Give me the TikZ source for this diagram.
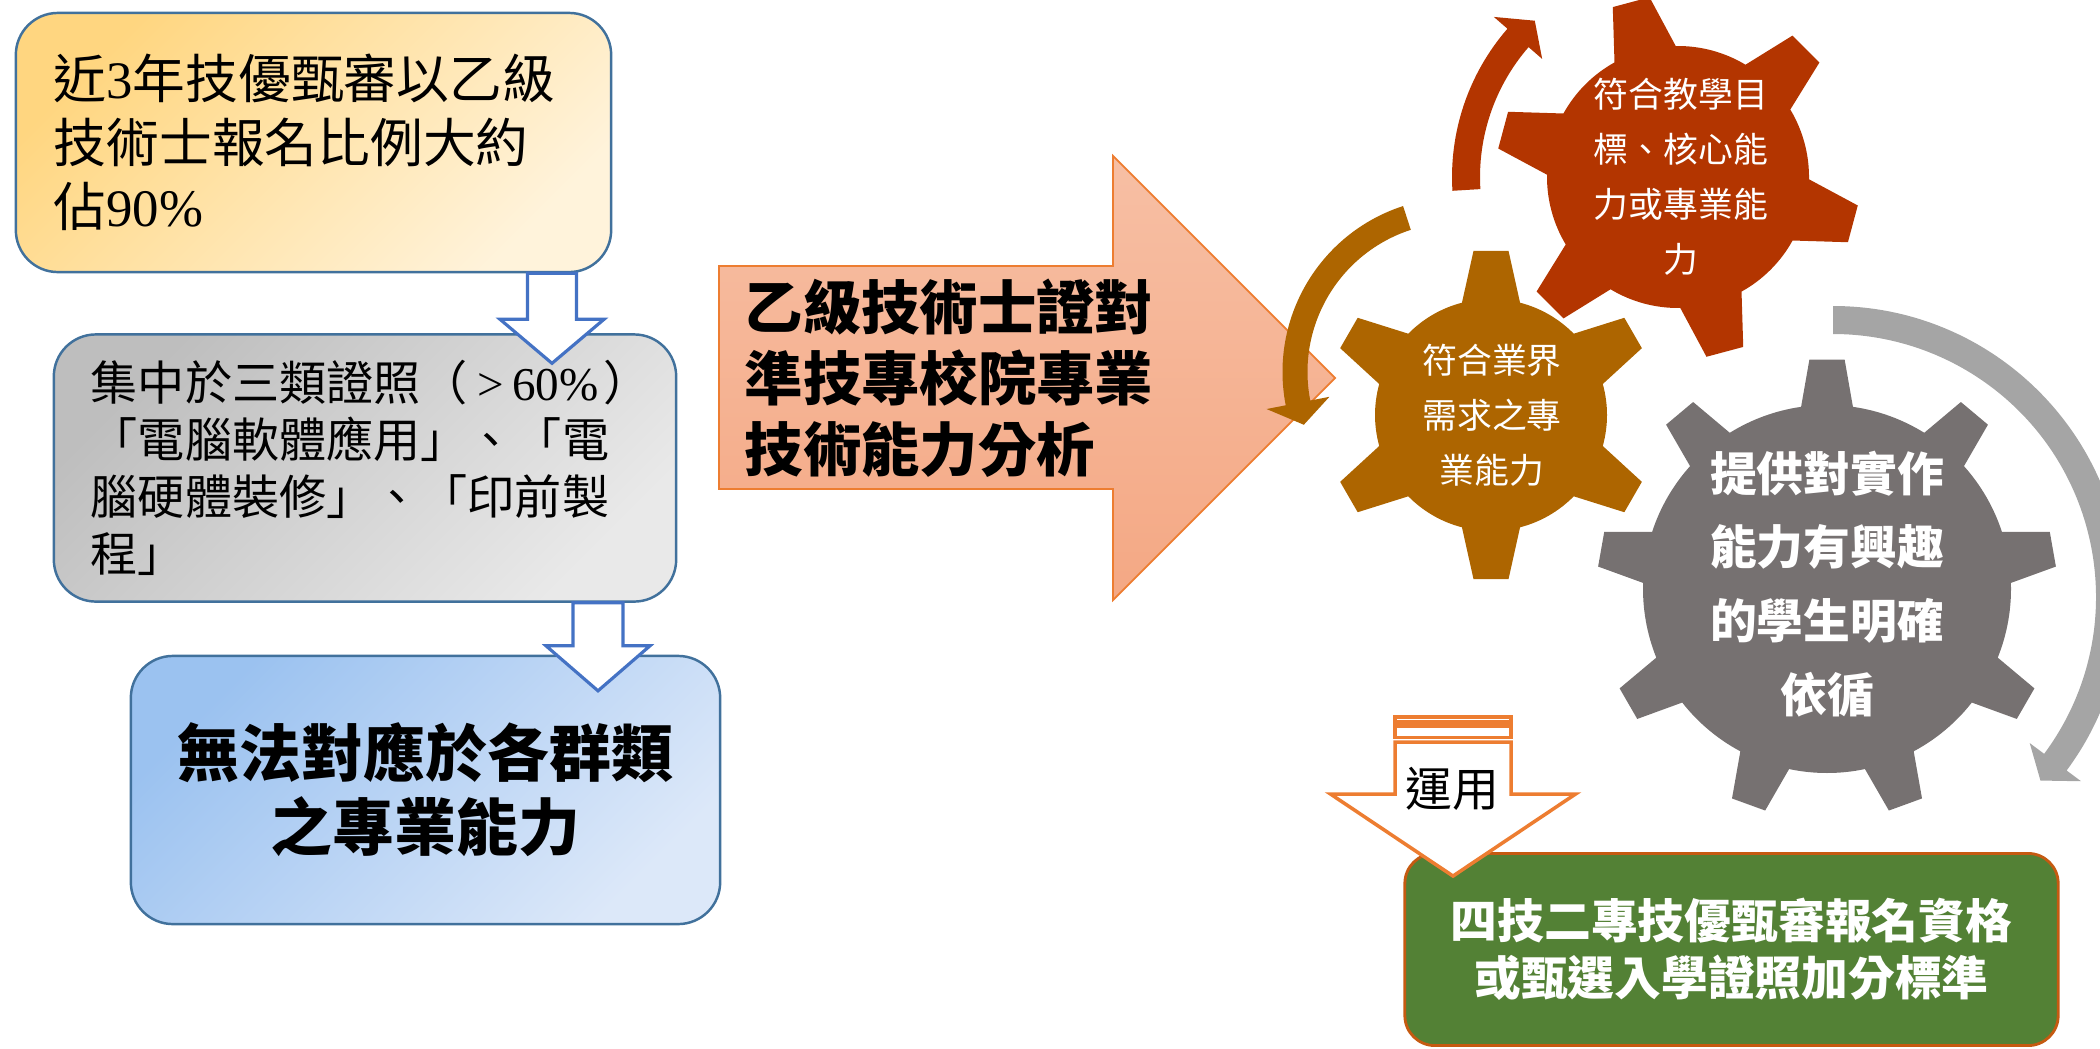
\documentclass[tikz,border=0pt]{standalone}
\usepackage{fontspec}
\usetikzlibrary{calc}
\newfontfamily\tc{Noto Sans CJK TC}
\newfontfamily\lat{Liberation Serif}

\definecolor{goldA}{RGB}{255,214,128}
\definecolor{goldB}{RGB}{255,243,219}
\definecolor{greyA}{RGB}{190,190,190}
\definecolor{greyB}{RGB}{233,233,233}
\definecolor{blueA}{RGB}{155,194,240}
\definecolor{blueB}{RGB}{220,232,249}
\definecolor{boxline}{RGB}{65,113,156}
\definecolor{flowblue}{RGB}{68,114,196}
\definecolor{salmonA}{RGB}{247,191,164}
\definecolor{salmonB}{RGB}{244,168,132}
\definecolor{accent}{RGB}{237,125,49}
\definecolor{gearred}{RGB}{179,53,0}
\definecolor{gearbrown}{RGB}{173,101,0}
\definecolor{geargrey}{RGB}{118,113,113}
\definecolor{arcgrey}{RGB}{165,165,165}
\definecolor{leaf}{RGB}{83,129,53}
\definecolor{rust}{RGB}{197,90,17}

% gear: fill, centre, teeth, first tooth angle, body radius, tip radius, half base angle, half tip angle
\newcommand{\gear}[8]{%
  \pgfmathsetmacro{\gstep}{360/#3}
  \fill[#1, shift={#2}] ({#4-#7}:#5)
    \foreach \k in {1,...,#3} {
      -- ({#4+(\k-1)*\gstep-#8}:#6) -- ({#4+(\k-1)*\gstep+#8}:#6)
      -- ({#4+(\k-1)*\gstep+#7}:#5)
      arc[start angle={#4+(\k-1)*\gstep+#7}, end angle={#4+\k*\gstep-#7}, radius=#5]
    } -- cycle;
}
% curved arrow: fill, centre, radius, half thickness, tail angle, head angle, tip angle, head half width
\newcommand{\circarrow}[8]{%
  \fill[#1, shift={#2}] ({#5}:{#3+#4}) arc[start angle=#5, end angle=#6, radius={#3+#4}]
    -- ({#6}:{#3+#8}) -- ({#7}:{#3}) -- ({#6}:{#3-#8}) -- ({#6}:{#3-#4})
    arc[start angle=#6, end angle=#5, radius={#3-#4}] -- cycle;
}
% block arrow pointing down: style, top centre, length, shaft half width, head half width, head length
\newcommand{\downblock}[6]{%
  \draw[#1, shift={#2}] (-#4,0) -- (-#4,{#3-#6}) -- (-#5,{#3-#6}) -- (0,#3)
    -- (#5,{#3-#6}) -- (#4,{#3-#6}) -- (#4,0) -- cycle;
}

\begin{document}
\begin{tikzpicture}[x=0.01cm, y=-0.01cm,
    flowbox/.style 2 args={draw=boxline, line width=0.7pt, rounded corners=0.42cm, inner sep=0pt,
      top color=#1, bottom color=#2, shading angle=45},
    flowarrow/.style={draw=flowblue, line width=0.9pt, fill=white},
    usearrow/.style={draw=accent, line width=1pt, fill=white},
    gearlabel/.style={text=white, align=center, inner sep=0pt}]
  \useasboundingbox (0,0) rectangle (2100,1048);

  % left column
  \node[flowbox={goldA}{goldB}, minimum width=5.95cm, minimum height=2.59cm, text width=5.19cm, align=left,
    font=\tc\fontsize{15}{18.2}\selectfont] (ratio) at (313.5,142.5) {近{\lat 3}年技優甄審以乙級\\技術士報名比例大約\\佔{\lat 90\%}};
  \node[flowbox={greyA}{greyB}, minimum width=6.22cm, minimum height=2.67cm, text width=5.48cm, align=left,
    font=\tc\fontsize{13.4}{16.2}\selectfont] (certs) at (365,468) {\mbox{集中於三類證照（\hspace{0.1cm}{\lat>\,60\%}\hspace{0.05cm}）}\\「電腦軟體應用」、「電\\腦硬體裝修」、「印前製\\程」};
  \node[flowbox={blueA}{blueB}, minimum width=5.89cm, minimum height=2.68cm, align=center,
    font=\tc\bfseries\fontsize{17.6}{21}\selectfont] (gap) at (425.5,790) {無法對應於各群類\\之專業能力};

  \coordinate (s1) at (ratio.south -| 552,0);
  \coordinate (s2) at (certs.south -| 598,0);
  \downblock{flowarrow}{(s1)}{90}{24.5}{52}{44}
  \downblock{flowarrow}{(s2)}{88}{25}{52}{45}

  % big arrow
  \draw[draw=accent, line width=0.5pt, top color=salmonA, bottom color=salmonB]
    (719,266) -- (1113,266) -- (1113,156) -- (1335,378) -- (1113,600) -- (1113,489) -- (719,489) -- cycle;
  \node[anchor=west, align=left, inner sep=0pt, font=\tc\bfseries\fontsize{16.6}{20.2}\selectfont]
    (analysis) at (744,378) {乙級技術士證對\\準技專校院專業\\技術能力分析};

  % gears
  \gear{gearred}{(1678,177)}{6}{15}{131}{182}{14}{6}
  \gear{gearbrown}{(1491,415)}{6}{30}{116}{165}{14.5}{6.1}
  \gear{geargrey}{(1827,589)}{9}{30}{184}{230}{8.1}{4.4}
  \node[gearlabel, font=\tc\fontsize{9.9}{15.6}\selectfont] (aims) at (1681,177) {符合教學目\\標、核心能\\力或專業能\\力};
  \node[gearlabel, font=\tc\fontsize{9.9}{15.6}\selectfont] (industry) at (1492,415) {符合業界\\需求之專\\業能力};
  \node[gearlabel, font=\tc\bfseries\fontsize{13.3}{21}\selectfont] (learners) at (1827,584) {提供對實作\\能力有興趣\\的學生明確\\依循};

  % turning arrows
  \circarrow{gearred}{(1678,177)}{212}{14}{176.5}{221}{227.5}{32}
  \circarrow{gearbrown}{(1457,372)}{162}{12.5}{252}{169}{161}{32}
  \circarrow{arcgrey}{(1833,597)}{277}{14}{270}{396.6}{401.5}{32}

  % result
  \node[draw=rust, line width=0.8pt, fill=leaf, rounded corners=0.3cm, minimum width=6.53cm, minimum height=1.92cm,
    align=center, text=white, font=\tc\bfseries\fontsize{13.3}{16.2}\selectfont]
    (admission) at (1731.5,949.5) {四技二專技優甄審報名資格\\或甄選入學證照加分標準};
  \coordinate (u) at (admission.north -| 1453,0);
  \draw[usearrow] (1395,717) rectangle (1511,722);
  \draw[usearrow] (1395,726) rectangle (1511,737.5);
  \downblock{usearrow}{($(u)+(0,-110)$)}{134}{58}{122.5}{82}
  \node[font=\tc\fontsize{13.3}{16}\selectfont, inner sep=0pt] (apply) at (1452,789) {運用};
\end{tikzpicture}
\end{document}
